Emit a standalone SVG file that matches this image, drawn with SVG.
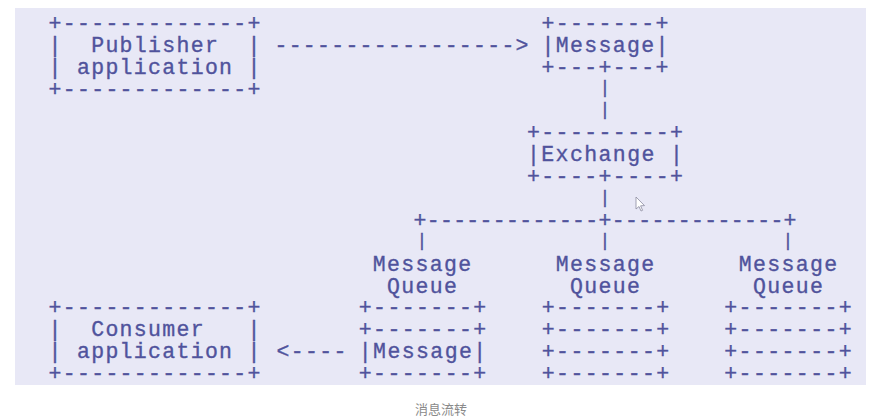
<svg xmlns="http://www.w3.org/2000/svg" width="888" height="418" viewBox="0 0 888 418">
<style>
.t{font-family:"Liberation Mono","DejaVu Sans Mono",monospace;font-size:21.5px;fill:#50539c;stroke:#50539c;stroke-width:0.35;text-anchor:middle;white-space:pre}
.bar{font-size:18px}
.cap{font-family:"Noto Sans CJK SC","Noto Sans",sans-serif;font-size:13px;fill:#8a8a8a;text-anchor:middle}
</style>
<rect x="0" y="0" width="888" height="418" fill="#ffffff"/>
<rect x="15" y="8" width="851" height="377" fill="#e8e8f6"/>
<g id="publisher">
<text class="t" x="154.5" y="30" textLength="211.9" lengthAdjust="spacing">+-------------+</text>
<text class="t" x="154.5" y="51.9" textLength="211.9" lengthAdjust="spacing">|  Publisher  |</text>
<text class="t" x="154.5" y="73.75" textLength="211.9" lengthAdjust="spacing">| application |</text>
<text class="t" x="154.5" y="95.6" textLength="211.9" lengthAdjust="spacing">+-------------+</text>
</g>
<g id="message">
<text class="t" x="605" y="30" textLength="127" lengthAdjust="spacing">+-------+</text>
<text class="t" x="605" y="51.9" textLength="127" lengthAdjust="spacing">|Message|</text>
<text class="t" x="605" y="73.75" textLength="127" lengthAdjust="spacing">+---+---+</text>
</g>
<g id="exchange">
<text class="t" x="605" y="139.4" textLength="156" lengthAdjust="spacing">+---------+</text>
<text class="t" x="605" y="161.25" textLength="156" lengthAdjust="spacing">|Exchange |</text>
<text class="t" x="605" y="183.1" textLength="156" lengthAdjust="spacing">+----+----+</text>
</g>
<g id="queue1">
<text class="t" x="422" y="270.6" textLength="98.4" lengthAdjust="spacing">Message</text>
<text class="t" x="422" y="292.5" textLength="69.9" lengthAdjust="spacing">Queue</text>
<text class="t" x="422.5" y="314.4" textLength="127.4" lengthAdjust="spacing">+-------+</text>
<text class="t" x="422.5" y="336.25" textLength="127.4" lengthAdjust="spacing">+-------+</text>
<text class="t" x="422.5" y="358.1" textLength="127.4" lengthAdjust="spacing">|Message|</text>
<text class="t" x="422.5" y="380" textLength="127.4" lengthAdjust="spacing">+-------+</text>
</g>
<g id="queue2">
<text class="t" x="605" y="270.6" textLength="98.4" lengthAdjust="spacing">Message</text>
<text class="t" x="605" y="292.5" textLength="69.9" lengthAdjust="spacing">Queue</text>
<text class="t" x="605.5" y="314.4" textLength="127.4" lengthAdjust="spacing">+-------+</text>
<text class="t" x="605.5" y="336.25" textLength="127.4" lengthAdjust="spacing">+-------+</text>
<text class="t" x="605.5" y="358.1" textLength="127.4" lengthAdjust="spacing">+-------+</text>
<text class="t" x="605.5" y="380" textLength="127.4" lengthAdjust="spacing">+-------+</text>
</g>
<g id="queue3">
<text class="t" x="788" y="270.6" textLength="98.4" lengthAdjust="spacing">Message</text>
<text class="t" x="788" y="292.5" textLength="69.9" lengthAdjust="spacing">Queue</text>
<text class="t" x="788" y="314.4" textLength="127.4" lengthAdjust="spacing">+-------+</text>
<text class="t" x="788" y="336.25" textLength="127.4" lengthAdjust="spacing">+-------+</text>
<text class="t" x="788" y="358.1" textLength="127.4" lengthAdjust="spacing">+-------+</text>
<text class="t" x="788" y="380" textLength="127.4" lengthAdjust="spacing">+-------+</text>
</g>
<g id="consumer">
<text class="t" x="154.5" y="314.4" textLength="211.9" lengthAdjust="spacing">+-------------+</text>
<text class="t" x="154.5" y="336.25" textLength="211.9" lengthAdjust="spacing">|  Consumer   |</text>
<text class="t" x="154.5" y="358.1" textLength="211.9" lengthAdjust="spacing">| application |</text>
<text class="t" x="154.5" y="380" textLength="211.9" lengthAdjust="spacing">+-------------+</text>
</g>
<g id="connectors">
<text class="t" x="401.5" y="51.9" textLength="254" lengthAdjust="spacing">-----------------&gt;</text>
<text class="t bar" x="605" y="93">|</text>
<text class="t bar" x="605" y="115">|</text>
<text class="t bar" x="605" y="203">|</text>
<text class="t" x="605" y="226.9" textLength="383" lengthAdjust="spacing">+-------------+-------------+</text>
<text class="t bar" x="422" y="246">|</text>
<text class="t bar" x="605" y="246">|</text>
<text class="t bar" x="788" y="246">|</text>
<text class="t" x="311.5" y="358.1" textLength="69.9" lengthAdjust="spacing">&lt;----</text>
</g>
<path d="M636 197 L636 209 L639 206.5 L641 211 L642.6 210.3 L640.6 205.8 L644.5 205.6 Z" fill="#ffffff" stroke="#8a8aa0" stroke-width="0.8"/>
<text class="cap" x="441" y="414">消息流转</text>
</svg>
